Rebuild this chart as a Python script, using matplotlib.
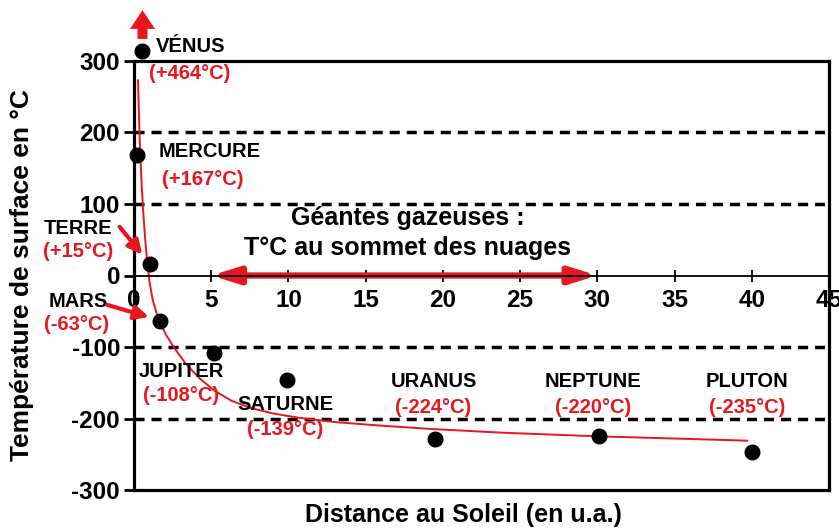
import matplotlib
matplotlib.use("Agg")
import matplotlib.pyplot as plt

plt.rcParams['font.family'] = ['Liberation Sans', 'DejaVu Sans']
plt.rcParams['font.weight'] = 'bold'

# ---- data ----
planets = ["MERCURE", "VÉNUS", "TERRE", "MARS", "JUPITER", "SATURNE", "URANUS", "NEPTUNE", "PLUTON"]
temp_labels = ["(+167°C)", "(+464°C)", "(+15°C)", "(-63°C)", "(-108°C)", "(-139°C)", "(-224°C)", "(-220°C)", "(-235°C)"]
dist_plot = [0.2, 0.55, 1.05, 1.7, 5.15, 9.9, 19.5, 30.1, 40.0]
temp_plot = [168, 314, 16, -64, -109, -146, -229, -225, -247]

curve_d = [0.26, 0.32, 0.39, 0.5, 0.6, 0.72, 0.86, 1.0, 1.2, 1.45, 1.73, 2.1, 2.6, 3.3,
           4.2, 5.2, 6.3, 7.5, 9.0, 10.7, 13, 16, 19.5, 24, 30.1, 35, 39.7]
curve_t = [273, 225, 178, 125, 88, 52, 18, -8, -33, -52, -68, -84, -101, -122,
           -143, -161, -175, -185, -193, -199, -205, -210, -215, -220, -225, -228, -231]

xticks = [0, 5, 10, 15, 20, 25, 30, 35, 40, 45]
yticks = [-300, -200, -100, 0, 100, 200, 300]
grid_levels = [-200, -100, 100, 200]
gas_range = [5, 30]
xlim = (0, 45)
ylim = (-300, 300)

RED = '#e8161e'

fig = plt.figure(figsize=(8.39, 5.29), dpi=100)
ax = fig.add_axes([134/839, 1-490/529, (829-134)/839, (490-61)/529])
ax.set_xlim(*xlim)
ax.set_ylim(*ylim)

for s in ['left', 'top', 'right']:
    ax.spines[s].set_linewidth(2.3)
ax.spines['bottom'].set_position(('data', 0))
ax.spines['bottom'].set_linewidth(1.3)
ax.axhline(ylim[0], color='k', lw=2.3, clip_on=False, zorder=3)

for g in grid_levels:
    ax.axhline(g, color='k', lw=2.5, linestyle=(0, (2.9, 2.0)), zorder=1)

ax.set_xticks(xticks)
ax.set_xticklabels([str(v) for v in xticks])
ax.set_yticks(yticks)
ax.set_yticklabels([str(v) for v in yticks])
ax.tick_params(axis='x', direction='inout', length=8, width=1.3, pad=6, labelsize=17.5)
ax.tick_params(axis='y', direction='out', length=7, width=2.0, pad=3, labelsize=17.5)

# curve
ax.plot(curve_d, curve_t, color=RED, lw=1.4, zorder=2)

# points
ax.scatter(dist_plot, temp_plot, s=110, color='k', zorder=5, clip_on=False)

# Venus arrow
ax.annotate('', xy=(dist_plot[1], 375), xytext=(dist_plot[1], 327),
            arrowprops=dict(arrowstyle='simple,head_length=0.75,head_width=1.0,tail_width=0.4',
                            color=RED, lw=0, mutation_scale=18),
            annotation_clip=False)

# gas giants arrow
ax.annotate('', xy=(gas_range[0], 0), xytext=(gas_range[1], 0),
            arrowprops=dict(arrowstyle='<|-|>,head_length=1.6,head_width=0.5',
                            color=RED, lw=4.5, shrinkA=0, shrinkB=0, mutation_scale=10),
            zorder=2)
ax.text(17.7, 80, "Géantes gazeuses :", fontsize=18, ha='center', va='center')
ax.text(17.7, 39, "T°C au sommet des nuages", fontsize=18, ha='center', va='center')

# labels (name, temp)
fs = 14.5
# Venus
ax.text(1.43, 320, planets[1], fontsize=fs, ha='left', va='center')
ax.text(0.97, 283, temp_labels[1], fontsize=fs, ha='left', va='center', color=RED)
# Mercure
ax.text(1.62, 173, planets[0], fontsize=fs, ha='left', va='center')
ax.text(1.82, 134, temp_labels[0], fontsize=fs, ha='left', va='center', color=RED)
# Terre
ax.text(-3.63, 66, planets[2], fontsize=fs, ha='center', va='center', clip_on=False)
ax.text(-3.63, 33, temp_labels[2], fontsize=fs, ha='center', va='center', color=RED, clip_on=False)
ax.annotate('', xy=(0.54, 29), xytext=(-0.93, 68),
            arrowprops=dict(arrowstyle='-|>,head_length=0.65,head_width=0.32', color=RED, lw=3,
                            shrinkA=0, shrinkB=0, mutation_scale=13), annotation_clip=False)
# Mars
ax.text(-3.63, -37, planets[3], fontsize=fs, ha='center', va='center', clip_on=False)
ax.text(-3.7, -69, temp_labels[3], fontsize=fs, ha='center', va='center', color=RED, clip_on=False)
ax.annotate('', xy=(0.97, -58), xytext=(-1.75, -41),
            arrowprops=dict(arrowstyle='-|>,head_length=0.65,head_width=0.32', color=RED, lw=3,
                            shrinkA=0, shrinkB=0, mutation_scale=13), annotation_clip=False)
# outer planets
outer_pos = [(3.05, -134, -168), (9.8, -181, -216), (19.4, -148, -184), (29.7, -148, -184), (39.7, -148, -184)]
for i, (xp, yn, yt) in zip(range(4, 9), outer_pos):
    ax.text(xp, yn, planets[i], fontsize=fs, ha='center', va='center')
    ax.text(xp, yt, temp_labels[i], fontsize=fs, ha='center', va='center', color=RED)

fig.text(22/839, 1-275/529, "Température de surface en °C", rotation=90, fontsize=19,
         ha='center', va='center')
fig.text(463/839, 1-515/529, "Distance au Soleil (en u.a.)", fontsize=18, ha='center', va='center')

fig.savefig('out.png', dpi=100)
